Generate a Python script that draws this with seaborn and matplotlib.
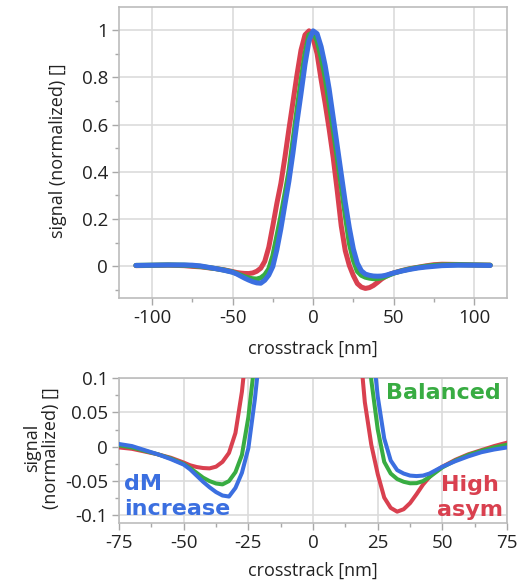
import numpy as np
import pandas as pd
import matplotlib
matplotlib.use("Agg")
import matplotlib.pyplot as plt
from matplotlib.ticker import MultipleLocator
import seaborn as sns

# ---------------- data ----------------
crosstrack = [-110, -100, -90, -80, -75, -70, -65, -60, -55,
              -50, -47.5, -45, -42.5, -40, -37.5, -35, -32.5, -30, -27.5,
              -25, -22.5, -20, -17.5, -15, -12.5, -10, -7.5, -5, -2.5,
              0, 2.5, 5, 7.5, 10, 12.5, 15, 17.5, 20, 22.5,
              25, 27.5, 30, 32.5, 35, 37.5, 40, 42.5, 45, 47.5, 50,
              55, 60, 65, 70, 75, 80, 90, 100, 110]

high_asym = [0.002, 0.003, 0.004, 0.002, -0.001, -0.003, -0.007, -0.011, -0.016,
             -0.023, -0.027, -0.0295, -0.031, -0.0315, -0.029, -0.022, -0.009, 0.020, 0.080,
             0.170, 0.265, 0.350, 0.460, 0.580, 0.695, 0.810, 0.915, 0.980, 0.997,
             0.965, 0.900, 0.790, 0.690, 0.580, 0.460, 0.320, 0.170, 0.065, 0.003,
             -0.040, -0.074, -0.089, -0.0945, -0.091, -0.082, -0.069, -0.055, -0.044, -0.035, -0.029,
             -0.019, -0.011, -0.005, 0.001, 0.006, 0.008, 0.007, 0.005, 0.004]

balanced = [0.003, 0.004, 0.005, 0.004, 0.002, -0.001, -0.006, -0.011, -0.017,
            -0.025, -0.031, -0.038, -0.045, -0.050, -0.0535, -0.0548, -0.050, -0.037, -0.012,
            0.043, 0.126, 0.210, 0.304, 0.400, 0.530, 0.660, 0.785, 0.900, 0.980,
            0.990, 0.955, 0.885, 0.800, 0.690, 0.580, 0.460, 0.340, 0.215, 0.097,
            0.025, -0.022, -0.039, -0.047, -0.051, -0.0532, -0.053, -0.050, -0.044, -0.037, -0.030,
            -0.020, -0.012, -0.006, -0.001, 0.003, 0.005, 0.006, 0.005, 0.004]

dm_increase = [0.003, 0.004, 0.005, 0.005, 0.004, 0.001, -0.005, -0.011, -0.018,
               -0.026, -0.033, -0.042, -0.051, -0.059, -0.066, -0.071, -0.0725, -0.060, -0.038,
               -0.002, 0.069, 0.158, 0.260, 0.360, 0.479, 0.610, 0.730, 0.855, 0.955,
               0.997, 0.985, 0.930, 0.850, 0.750, 0.630, 0.510, 0.390, 0.270, 0.163,
               0.073, 0.012, -0.020, -0.034, -0.039, -0.042, -0.0427, -0.042, -0.039, -0.034, -0.029,
               -0.021, -0.014, -0.008, -0.004, -0.001, 0.002, 0.004, 0.004, 0.003]

series_names = ["High asym", "Balanced", "dM increase"]
series_colors = ["#d9404f", "#38ac42", "#3b6fe0"]

top_xticks = [-100, -50, 0, 50, 100]
top_yticks = [0, 0.2, 0.4, 0.6, 0.8, 1]
top_ylabels = ["0", "0.2", "0.4", "0.6", "0.8", "1"]
bot_xticks = [-75, -50, -25, 0, 25, 50, 75]
bot_yticks = [-0.1, -0.05, 0, 0.05, 0.1]
bot_ylabels = ["-0.1", "-0.05", "0", "0.05", "0.1"]

df = pd.DataFrame({
    "crosstrack": crosstrack * 3,
    "signal": high_asym + balanced + dm_increase,
    "series": [series_names[0]] * len(crosstrack)
              + [series_names[1]] * len(crosstrack)
              + [series_names[2]] * len(crosstrack),
})

# ---------------- style ----------------
sns.set_theme(style="white")
plt.rcParams["font.family"] = ["Open Sans", "DejaVu Sans"]
TXT = "#222222"
GRID = "#dcdcdc"
SPINE = "#bcbcbc"

fig = plt.figure(figsize=(5.21, 5.82), dpi=100)
ax1 = fig.add_axes([0.2284, 0.488, 0.745, 0.500])
ax2 = fig.add_axes([0.2284, 0.1014, 0.745, 0.249])

palette = dict(zip(series_names, series_colors))

for ax, lw in ((ax1, 3.6), (ax2, 2.9)):
    sns.lineplot(data=df, x="crosstrack", y="signal", hue="series",
                 hue_order=series_names, palette=palette, linewidth=lw,
                 legend=False, ax=ax, estimator=None, sort=False, zorder=3)
    for ln in ax.get_lines():
        ln.set_solid_joinstyle("round")
        ln.set_solid_capstyle("round")
    ax.grid(True, which="major", color=GRID, linewidth=1.2, zorder=0)
    ax.set_axisbelow(True)
    for s in ax.spines.values():
        s.set_color(SPINE)
        s.set_linewidth(1.2)
    ax.tick_params(which="major", direction="out", length=5, width=1,
                   color="#a8a8a8", labelsize=13.5, labelcolor=TXT, pad=3)
    ax.tick_params(which="minor", direction="out", length=3, width=1,
                   color="#a8a8a8")
    ax.tick_params(axis="both", which="both", bottom=True, left=True,
                   top=False, right=False)

# top axes
ax1.set_xlim(-120.5, 120.5)
ax1.set_ylim(-0.135, 1.098)
ax1.set_xticks(top_xticks)
ax1.set_xticklabels([str(t) for t in top_xticks])
ax1.xaxis.set_minor_locator(MultipleLocator(25))
ax1.set_yticks(top_yticks)
ax1.set_yticklabels(top_ylabels)
ax1.yaxis.set_minor_locator(MultipleLocator(0.1))
ax1.set_xlabel("crosstrack [nm]", fontsize=13, color=TXT)
ax1.set_ylabel("signal (normalized) []", fontsize=13, color=TXT)
ax1.xaxis.set_label_coords(0.5, -0.145)
ax1.yaxis.set_label_coords(-0.135, 0.505)

# bottom axes
ax2.set_xlim(-75, 75)
ax2.set_ylim(-0.111, 0.1)
ax2.set_xticks(bot_xticks)
ax2.set_xticklabels([str(t) for t in bot_xticks])
ax2.xaxis.set_minor_locator(MultipleLocator(12.5))
ax2.set_yticks(bot_yticks)
ax2.set_yticklabels(bot_ylabels)
ax2.yaxis.set_minor_locator(MultipleLocator(0.025))
ax2.set_xlabel("crosstrack [nm]", fontsize=13, color=TXT)
ax2.set_ylabel("signal\n(normalized) []", fontsize=13, color=TXT,
               linespacing=1.05)
ax2.xaxis.set_label_coords(0.5, -0.265)
ax2.yaxis.set_label_coords(-0.152, 0.52)

bold = dict(fontsize=16, fontweight="bold", family="DejaVu Sans")
ax2.text(72.5, 0.078, "Balanced", color=series_colors[1], ha="right", va="center", **bold)
ax2.text(-73, -0.073, "dM\nincrease", color=series_colors[2], ha="left",
         va="center", linespacing=1.3, **bold)
ax2.text(60.8, -0.074, "High\nasym", color=series_colors[0], ha="center",
         va="center", linespacing=1.3, **bold)

fig.savefig("out.png", dpi=100, facecolor="white")
